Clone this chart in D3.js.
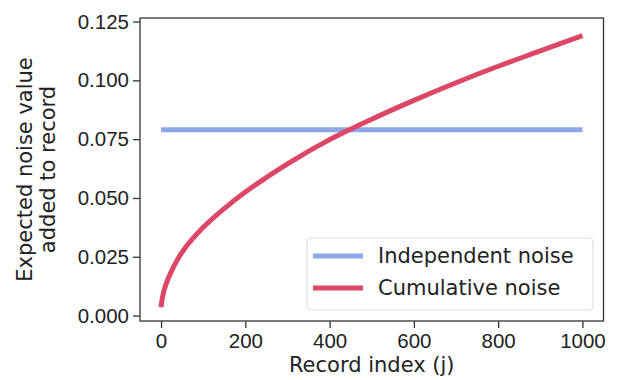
<!DOCTYPE html>
<html>
<head>
<meta charset="utf-8">
<script src="https://cdn.jsdelivr.net/npm/d3@7"></script>
<style>
  body { margin: 0; background: #fff; }
  svg { display: block; font-family: "DejaVu Sans", sans-serif; }
</style>
</head>
<body>
<svg width="620" height="380"></svg>
<script>
// values
const recordIndex = [0, 3, 10, 25, 50, 100, 150, 200, 300, 400, 500, 600, 700, 800, 900, 1000];
const cumulativeNoise = [0.0035, 0.0075, 0.0125, 0.019, 0.027, 0.0375, 0.0455, 0.0525, 0.0645, 0.0748, 0.0835, 0.0915, 0.099, 0.106, 0.1125, 0.119];
const independentNoise = [0.079, 0.079];
const independentIndex = [0, 1000];
const xTicks = [0, 200, 400, 600, 800, 1000];
const yTicks = [0, 0.025, 0.05, 0.075, 0.1, 0.125];
const seriesNames = ["Independent noise", "Cumulative noise"];
const seriesColors = ["#8ea7e9", "#dc4767"];

const svg = d3.select("svg");
const plotLeft = 140, plotRight = 603.5, plotTop = 18, plotBottom = 321;

const x = d3.scaleLinear().domain([-50, 1050]).range([plotLeft, plotRight]);
const y = d3.scaleLinear().domain([-0.0023, 0.1265]).range([plotBottom, plotTop]);

const line = d3.line().x(d => x(d[0])).y(d => y(d[1]));

const g = svg.append("g");

g.append("path")
  .datum(independentIndex.map((d, i) => [d, independentNoise[i]]))
  .attr("d", line)
  .attr("fill", "none")
  .attr("stroke", seriesColors[0])
  .attr("stroke-width", 5);

g.append("path")
  .datum(recordIndex.map((d, i) => [d, cumulativeNoise[i]]))
  .attr("d", line.curve(d3.curveCatmullRom))
  .attr("fill", "none")
  .attr("stroke", seriesColors[1])
  .attr("stroke-width", 5)
  .attr("stroke-linecap", "butt");

// axes
const xAxis = svg.append("g")
  .attr("transform", `translate(0,${plotBottom})`)
  .call(d3.axisBottom(x).tickValues(xTicks).tickSize(7).tickPadding(5).tickFormat(d3.format("d")));
const yAxis = svg.append("g")
  .attr("transform", `translate(${plotLeft},0)`)
  .call(d3.axisLeft(y).tickValues(yTicks).tickSize(7).tickPadding(4).tickFormat(d3.format(".3f")));

[xAxis, yAxis].forEach(a => {
  a.select(".domain").remove();
  a.selectAll("line").attr("stroke", "#333").attr("stroke-width", 1.3);
  a.selectAll("text").attr("fill", "#222").style("font-size", "20.5px");
});

svg.append("rect")
  .attr("x", plotLeft).attr("y", plotTop)
  .attr("width", plotRight - plotLeft).attr("height", plotBottom - plotTop)
  .attr("fill", "none").attr("stroke", "#333").attr("stroke-width", 1.3);

// axis labels
svg.append("text")
  .attr("x", (plotLeft + plotRight) / 2).attr("y", 372)
  .attr("text-anchor", "middle")
  .attr("fill", "#222")
  .style("font-size", "21px")
  .text("Record index (j)");

const yl = svg.append("text")
  .attr("transform", `translate(0,${(plotTop + plotBottom) / 2}) rotate(-90)`)
  .attr("text-anchor", "middle")
  .attr("fill", "#222")
  .style("font-size", "21px");
yl.append("tspan").attr("x", 0).attr("y", 32).text("Expected noise value");
yl.append("tspan").attr("x", 0).attr("y", 55).text("added to record");

// legend
const legend = svg.append("g");
legend.append("rect")
  .attr("x", 307).attr("y", 238).attr("width", 286).attr("height", 72)
  .attr("rx", 4)
  .attr("fill", "#fff").attr("fill-opacity", 0.8)
  .attr("stroke", "#dcdcdc").attr("stroke-width", 1);
seriesNames.forEach((name, i) => {
  const ly = 256 + i * 32;
  legend.append("line")
    .attr("x1", 313).attr("x2", 363).attr("y1", ly).attr("y2", ly)
    .attr("stroke", seriesColors[i]).attr("stroke-width", 5);
  legend.append("text")
    .attr("x", 378).attr("y", ly + 7)
    .attr("fill", "#222")
    .style("font-size", "21px")
    .text(name);
});
</script>
</body>
</html>
